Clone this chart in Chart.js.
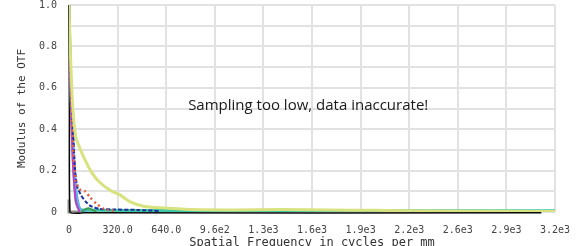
<!DOCTYPE html>
<html>
<head>
<meta charset="utf-8">
<script src="https://cdn.jsdelivr.net/npm/chart.js@4"></script>
<style>
  html, body { margin: 0; padding: 0; background: #fff; }
</style>
</head>
<body>
<canvas id="otf" width="576" height="246"></canvas>
<script>
// tick labels
const xTicks = [0, 320, 640, 960, 1280, 1600, 1920, 2240, 2560, 2880, 3200];
const xTickLabels = ["0", "320.0", "640.0", "9.6e2", "1.3e3", "1.6e3", "1.9e3", "2.2e3", "2.6e3", "2.9e3", "3.2e3"];
const yTickLabels = { "0": "0", "0.2": "0.2", "0.4": "0.4", "0.6": "0.6", "0.8": "0.8", "1": "1.0" };

// curves (frequency, modulus)
const yellowFreq = [0, 10, 25, 45, 65, 100, 150, 200, 270, 330, 400, 490, 600, 800, 1100, 1400, 1700, 2000, 2400, 3200];
const yellowVal  = [1, 0.75, 0.5, 0.36, 0.32, 0.26, 0.19, 0.145, 0.105, 0.085, 0.05, 0.028, 0.02, 0.012, 0.01, 0.012, 0.01, 0.008, 0.005, 0.003];

const tealFreq = [0, 10, 25, 45, 65, 100, 200, 600, 1200, 2000, 3200];
const tealVal  = [1, 0.65, 0.3, 0.06, 0.015, 0.009, 0.008, 0.007, 0.006, 0.006, 0.006];

const cyanFreq = [0, 10, 25, 45, 65, 85, 120];
const cyanVal  = [1, 0.7, 0.38, 0.12, 0.03, 0.005, 0];

const blueFreq = [0, 10, 25, 40, 55, 80, 110, 140, 200, 300, 450, 600];
const blueVal  = [1, 0.7, 0.42, 0.2, 0.12, 0.08, 0.05, 0.03, 0.015, 0.012, 0.01, 0.005];

const magentaFreq = [0, 10, 25, 45, 70];
const magentaVal  = [1, 0.6, 0.25, 0.05, 0];

const redFreq = [0, 10, 25, 45, 70, 105, 140, 180, 230, 300];
const redVal  = [1, 0.65, 0.33, 0.15, 0.11, 0.1, 0.07, 0.04, 0.015, 0.005];

const greenFreq = [80, 105, 130, 155, 180];
const greenVal  = [0, 0.012, 0.018, 0.01, 0];

const blackFreq = [0, 3, 6, 100, 3110];
const blackVal  = [1, 0.5, 0, -0.004, -0.004];

const grayFreq = [0, 0, 0, 70];
const grayVal  = [0.06, 0, 0, 0];

function pts(xs, ys) {
  return xs.map((x, i) => ({ x: x, y: ys[i] }));
}

// annotation text drawn on the canvas
const noteText = {
  id: "noteText",
  afterDraw(chart) {
    const ctx = chart.ctx;
    const x = chart.scales.x.getPixelForValue(1575);
    const y = chart.scales.y.getPixelForValue(0.515);
    ctx.save();
    ctx.font = "15px 'Open Sans'";
    ctx.fillStyle = "#1a1a1a";
    ctx.textAlign = "center";
    ctx.textBaseline = "middle";
    ctx.fillText("Sampling too low, data inaccurate!", x, y);
    ctx.restore();
  }
};

new Chart(document.getElementById("otf"), {
  type: "line",
  data: {
    datasets: [
      { data: pts(yellowFreq, yellowVal), borderColor: "#d8e27e", borderWidth: 3 },
      { data: pts(greenFreq, greenVal), borderColor: "#3f9a55", borderWidth: 2 },
      { data: pts(redFreq, redVal), borderColor: "#e0604a", borderWidth: 2.5, borderDash: [2, 3] },
      { data: pts(blueFreq, blueVal), borderColor: "#1c2f9c", borderWidth: 2, borderDash: [4, 2] },
      { data: pts(magentaFreq, magentaVal), borderColor: "#c23cc8", borderWidth: 2 },
      { data: pts(cyanFreq, cyanVal), borderColor: "#5ab6ea", borderWidth: 2.5 },
      { data: pts(tealFreq, tealVal), borderColor: "#3cc8a4", borderWidth: 3 },
      { data: pts(blackFreq, blackVal), borderColor: "#0a0a0a", borderWidth: 1.5, clip: 4 },
      { data: pts(grayFreq, grayVal), borderColor: "#8c8c8c", borderWidth: 3, clip: 4 }
    ]
  },
  options: {
    responsive: false,
    animation: false,
    elements: { point: { radius: 0 }, line: { tension: 0.2 } },
    layout: { padding: { top: 5, right: 21, left: 0, bottom: -4 } },
    plugins: { legend: { display: false }, tooltip: { enabled: false } },
    scales: {
      x: {
        type: "linear",
        min: 0,
        max: 3200,
        afterBuildTicks(scale) { scale.ticks = xTicks.map(v => ({ value: v })); },
        afterFit(scale) {
          scale.height = 38;
          scale.paddingLeft = 0;
          scale.paddingRight = 0;
        },
        grid: { color: "#e2e2e2", lineWidth: 2, drawTicks: false },
        border: { display: false },
        ticks: {
          color: "#444",
          font: { family: "'DejaVu Sans Mono'", size: 10 },
          padding: 12,
          maxRotation: 0,
          autoSkip: false,
          callback: (v) => xTickLabels[xTicks.indexOf(v)]
        },
        title: {
          display: true,
          text: "Spatial Frequency in cycles per mm",
          color: "#333",
          font: { family: "'DejaVu Sans Mono'", size: 12 },
          padding: { top: 0, bottom: 0 }
        }
      },
      y: {
        min: 0,
        max: 1,
        afterFit(scale) {
          scale.width = 69;
          scale.paddingTop = 0;
          scale.paddingBottom = 0;
        },
        grid: { color: "#e2e2e2", lineWidth: 2, drawTicks: false },
        border: { display: false },
        ticks: {
          stepSize: 0.1,
          color: "#444",
          font: { family: "'DejaVu Sans Mono'", size: 10 },
          padding: 12,
          callback: (v) => {
            const k = String(Math.round(v * 10) / 10);
            return yTickLabels[k] !== undefined ? yTickLabels[k] : "";
          }
        },
        title: {
          display: true,
          text: "Modulus of the OTF",
          color: "#333",
          font: { family: "'DejaVu Sans Mono'", size: 11 },
          padding: { top: 16, bottom: 0 }
        }
      }
    }
  },
  plugins: [noteText]
});
</script>
</body>
</html>
